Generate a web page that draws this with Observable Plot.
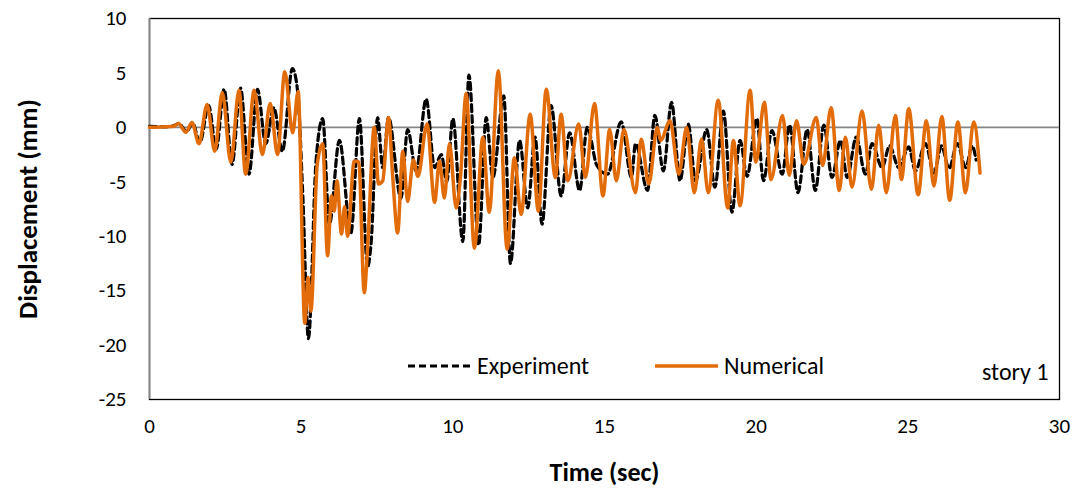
<!DOCTYPE html>
<html>
<head>
<meta charset="utf-8">
<script src="https://cdn.jsdelivr.net/npm/d3@7"></script>
<script src="https://cdn.jsdelivr.net/npm/@observablehq/plot@0.6"></script>
<style>
  html, body { margin: 0; padding: 0; background: #fff; }
  #chart { width: 1078px; height: 501px; }
</style>
</head>
<body>
<div id="chart"></div>
<script>
// Experiment (black dashed)
const timeExp = [0,0.5,0.8,0.97,1.22,1.42,1.66,1.95,2.2,2.46,2.72,3.0,3.28,3.56,3.83,4.1,4.38,4.71,4.88,5.05,5.24,5.49,5.71,5.93,6.26,6.64,6.92,7.19,7.3,7.52,7.69,7.88,8.29,8.51,8.79,9.12,9.4,9.62,9.8,10.0,10.33,10.53,10.85,11.1,11.32,11.68,11.9,12.2,12.47,12.71,12.94,13.24,13.57,13.85,14.18,14.43,14.75,15.1,15.55,15.89,16.02,16.42,16.66,16.94,17.21,17.49,17.76,18.0,18.37,18.64,18.92,19.2,19.47,19.7,20.02,20.24,20.52,20.86,21.1,21.38,21.68,21.95,22.23,22.5,22.78,23.0,23.3,23.6,23.82,24.15,24.4,24.7,25.03,25.25,25.58,25.86,26.11,26.36,26.63,26.91,27.12,27.25];
const dispExp = [0.1,0.05,0.15,0.35,-0.4,0.4,-1.4,2.0,-2.0,3.5,-3.4,3.6,-4.3,3.5,-1.5,1.8,-2.2,5.4,3.4,-6,-19.4,-3.1,0.8,-8.9,-1.2,-9.7,0.8,-12.8,-10.8,0.9,-3.7,0.9,-6.5,-0.2,-4.0,2.6,-3.7,-2.5,-5.0,0.8,-10.5,4.8,-10.8,0.9,-4.6,2.9,-12.5,-1.2,-7.4,-0.9,-8.9,2.0,-6.3,-0.5,-5.8,0.0,-3.5,-4.3,0.5,-4.6,-1.5,-5.8,1.1,-4.0,2.3,-4.9,0.3,-4.9,-0.2,-5.5,1.5,-7.8,-1.2,-4.5,0.8,-4.9,-0.3,-4.3,0.2,-6.0,-0.2,-5.8,0.2,-4.6,-1.2,-4.6,-0.9,-4.3,-1.5,-3.7,-1.7,-3.7,-1.8,-4.0,-1.5,-4.2,-1.7,-3.8,-1.5,-3.7,-1.7,-3.0];

// Numerical (orange solid)
const timeNum = [0,0.5,0.8,0.95,1.2,1.4,1.63,1.9,2.15,2.4,2.68,2.95,3.17,3.45,3.72,3.98,4.22,4.46,4.72,4.9,5.12,5.23,5.32,5.53,5.71,5.87,6.0,6.09,6.18,6.33,6.43,6.53,6.75,6.9,7.08,7.19,7.41,7.55,7.69,7.88,8.02,8.18,8.35,8.51,8.7,8.85,9.15,9.4,9.56,9.72,9.89,10.11,10.25,10.44,10.71,10.99,11.2,11.5,11.79,12.03,12.25,12.55,12.82,13.08,13.38,13.57,13.79,14.15,14.37,14.67,14.95,15.17,15.39,15.64,16.02,16.21,16.46,16.74,16.85,17.16,17.45,17.71,17.96,18.2,18.42,18.75,19.06,19.25,19.47,19.8,19.99,20.27,20.49,20.87,21.09,21.33,21.57,21.98,22.19,22.47,22.74,22.94,23.16,23.49,23.8,24.04,24.29,24.59,24.79,25.03,25.34,25.61,25.86,26.12,26.38,26.65,26.9,27.17,27.38];
const dispNum = [0,0.05,0.1,0.35,-0.45,0.45,-1.5,2.1,-2.2,3.2,-3.2,3.4,-4.3,3.4,-2.5,2.2,-2.5,5.1,-0.5,3.3,-18,-13.8,-16.9,-3.4,-1.5,-11.8,-6.3,-7.7,-4.9,-9.8,-7.3,-10,-3.1,-3.2,-15.2,-11,0,-5.2,-4.9,0.9,-4.6,-9.7,-2.2,-6.8,-3.0,-4.5,0.3,-6.9,-3.1,-6.5,-1.5,-7.4,-4.6,3.1,-11.1,-0.9,-7.8,5.2,-11.2,-2.8,-8.0,1.2,-7.7,3.5,-4.6,1.2,-4.9,0.3,-4.6,2.2,-6.3,-0.2,-4.9,-0.2,-6.0,-1.1,-5.2,0,-1.2,0.6,-4.3,0,-6.0,-1.1,-6.0,2.5,-7.4,-1.2,-7.2,3.4,-3.2,2.3,-4.8,1.1,-4.4,0.6,-3.4,0.9,-3.5,1.8,-5.8,-0.9,-5.5,1.5,-5.7,0.2,-6.0,1.1,-4.8,1.7,-6.2,0.6,-5.4,1.0,-6.7,0.5,-6.0,0.5,-4.2];

const xTicks = [0,5,10,15,20,25,30];
const yTicks = [-25,-20,-15,-10,-5,0,5,10];
const seriesNames = ["Experiment","Numerical"];
const xTitle = "Time (sec)";
const yTitle = "Displacement (mm)";
const note = "story 1";

const expData = timeExp.map((t,i) => ({t, v: dispExp[i]}));
const numData = timeNum.map((t,i) => ({t, v: dispNum[i]}));

const FONT = "Carlito, Calibri, Lato, sans-serif";
const ORANGE = "#E36C0A";
const fmt = d => String(d);

const chart = Plot.plot({
  width: 1078,
  height: 501,
  marginLeft: 149,
  marginRight: 19,
  marginTop: 18,
  marginBottom: 102,
  x: {domain: [0, 30]},
  y: {domain: [-25, 10]},
  style: {fontFamily: FONT, fontSize: "21px", color: "#000", background: "#fff"},
  marks: [
    Plot.frame({stroke: "#000", strokeWidth: 1.3}),
    Plot.ruleX([0], {stroke: "#858585", strokeWidth: 1.8}),
    Plot.ruleY([0], {stroke: "#858585", strokeWidth: 1.6}),
    Plot.line(expData, {x: "t", y: "v", curve: "monotone-x", stroke: "#000", strokeWidth: 3.2, strokeDasharray: "7,4"}),
    Plot.line(numData, {x: "t", y: "v", curve: "monotone-x", stroke: ORANGE, strokeWidth: 3.5}),
    Plot.axisX({ticks: xTicks, tickFormat: fmt, tickSize: 0, tickPadding: 19, label: null, fontSize: 21}),
    Plot.axisY({ticks: yTicks, tickFormat: fmt, tickSize: 0, tickPadding: 23, label: null, fontSize: 21}),
    Plot.text([xTitle], {text: d => d, frameAnchor: "bottom", textAnchor: "middle", dy: 81, fontWeight: "bold", fontSize: 26}),
    Plot.text([yTitle], {text: d => d, frameAnchor: "left", textAnchor: "middle", dx: -121, rotate: -90, fontWeight: "bold", fontSize: 27}),
    Plot.text([note], {text: d => d, frameAnchor: "bottom-right", dx: -11, dy: -20, textAnchor: "end", fontSize: 24})
  ]
});

// Legend (inside plot area, bottom centre)
const svg = d3.select(chart);
const lg = svg.append("g").attr("font-family", FONT).attr("font-size", 24).attr("text-anchor", "start");
const items = [
  {name: seriesNames[0], x: 408, stroke: "#000", dash: "7,4", w: 3.2},
  {name: seriesNames[1], x: 655, stroke: ORANGE, dash: null, w: 3.5}
];
items.forEach(it => {
  const g = lg.append("g").attr("transform", `translate(${it.x},366)`);
  g.append("line").attr("x1", 0).attr("x2", 63).attr("y1", 0).attr("y2", 0)
    .attr("stroke", it.stroke).attr("stroke-width", it.w)
    .attr("stroke-dasharray", it.dash);
  g.append("text").attr("x", 69).attr("y", 0).attr("dy", "0.35em")
    .attr("text-anchor", "start").text(it.name);
});

document.getElementById("chart").appendChild(chart);
</script>
</body>
</html>
